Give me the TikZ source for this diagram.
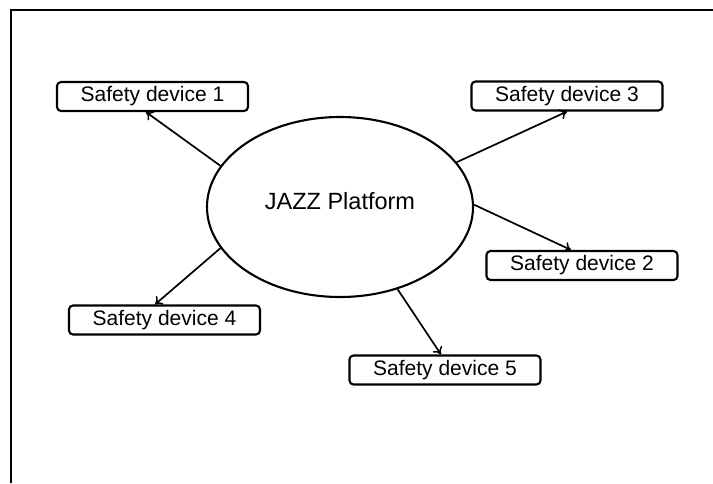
\documentclass[tikz,border=0pt]{standalone}
\usepackage{fontspec}
\setmainfont{Liberation Sans}
\usetikzlibrary{shapes.geometric,arrows.meta}
\begin{document}
\begin{tikzpicture}[x=1pt,y=-1pt,
  device/.style={draw,line width=2.1pt,rounded corners=4pt,minimum width=191pt,
    minimum height=29pt,inner sep=0pt,font=\fontsize{21}{24}\selectfont},
  link/.style={line width=1.7pt,-{To[length=7pt,width=11pt,line width=1.5pt]}},
  frame/.style={line width=2.6pt}]
  \useasboundingbox (0,0) rectangle (713,483);
  % outer frame (top and left sides only)
  \coordinate (frameTR) at (713,10);
  \coordinate (frameTL) at (11,10);
  \coordinate (frameBL) at (11,483);
  \draw[frame] (frameTR) -- (frameTL) -- (frameBL);

  % central platform
  \node[draw,ellipse,line width=2.1pt,minimum width=266pt,minimum height=180pt,inner sep=0pt] (jazz) at (340,207) {};
  \node[font=\fontsize{23.5}{27}\selectfont] (jazzlabel) at (340,201) {JAZZ Platform};

  % safety devices
  \node[device] (d1) at (152.5,96.5) {Safety device 1};
  \node[device] (d3) at (567,96) {Safety device 3};
  \node[device] (d2) at (582,265.5) {Safety device 2};
  \node[device] (d4) at (164.5,320) {Safety device 4};
  \node[device] (d5) at (445,370) {Safety device 5};

  % connections
  \draw[link] (jazz.161) -- ([xshift=-6.5pt]d1.south);
  \draw[link] (jazz.21) -- (d3.south);
  \draw[link] (jazz.1) -- ([xshift=-11pt]d2.north);
  \draw[link] (jazz.199) -- ([xshift=-9.5pt]d4.north);
  \draw[link] (jazz.305) -- ([xshift=-4pt]d5.north);
\end{tikzpicture}
\end{document}
